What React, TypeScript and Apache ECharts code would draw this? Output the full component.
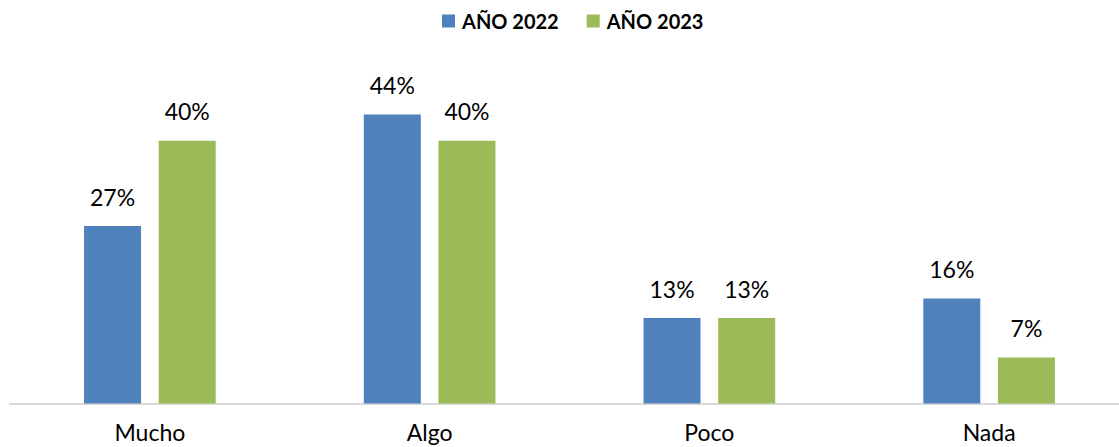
import React, { useEffect, useRef } from "react";
import * as echarts from "echarts";

const categories = ["Mucho", "Algo", "Poco", "Nada"];
const values2022 = [27, 44, 13, 16];
const values2023 = [40, 40, 13, 7];
const seriesNames = ["AÑO 2022", "AÑO 2023"];

export default function App() {
  const ref = useRef<HTMLDivElement>(null);
  useEffect(() => {
    if (!ref.current) return;
    const chart = echarts.init(ref.current, undefined, { renderer: "svg" });
    const labelStyle = {
      show: true,
      position: "top" as const,
      distance: 18,
      formatter: "{c}%",
      color: "#000",
      fontSize: 23,
      fontFamily: "Lato, 'Open Sans', sans-serif",
    };
    chart.setOption({
      animation: false,
      legend: {
        data: seriesNames,
        top: 11,
        left: 442,
        padding: 0,
        itemWidth: 13,
        itemHeight: 13,
        itemGap: 28,
        icon: "rect",
        textStyle: {
          fontSize: 20,
          fontWeight: "bold",
          color: "#000",
          fontFamily: "Lato, 'Open Sans', sans-serif",
          padding: [0, 0, 0, 2],
        },
      },
      grid: { left: 10, top: 75, width: 1119, height: 328.5, outerBoundsMode: "none", containLabel: false },
      xAxis: {
        type: "category",
        data: categories,
        axisTick: { show: false },
        axisLine: { lineStyle: { color: "#d9d9d9", width: 2 } },
        axisLabel: {
          margin: 17,
          color: "#000",
          fontSize: 23,
          fontFamily: "Lato, 'Open Sans', sans-serif",
        },
      },
      yAxis: {
        type: "value",
        min: 0,
        max: 50,
        show: false,
        splitLine: { show: false },
      },
      series: [
        {
          name: seriesNames[0],
          type: "bar",
          data: values2022,
          barWidth: 57,
          barGap: "31%",
          itemStyle: { color: "#4F81BD" },
          label: labelStyle,
        },
        {
          name: seriesNames[1],
          type: "bar",
          data: values2023,
          barWidth: 57,
          itemStyle: { color: "#9BBB59" },
          label: labelStyle,
        },
      ],
    });
    return () => chart.dispose();
  }, []);
  return (
    <div
      ref={ref}
      style={{ position: "absolute", left: 0, top: 0, width: 1119, height: 447 }}
    />
  );
}
